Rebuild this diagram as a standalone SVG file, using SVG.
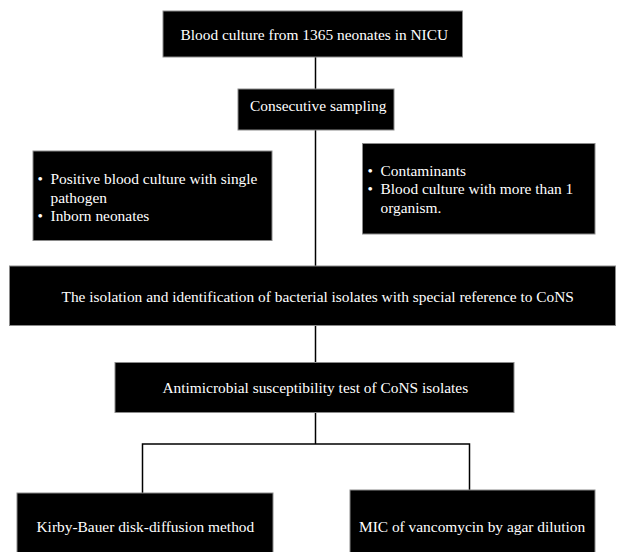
<svg xmlns="http://www.w3.org/2000/svg" width="617" height="552" viewBox="0 0 617 552">
<style>
.box{fill:#000;stroke:#8a8a8a;stroke-width:1}
.t{font-family:"Liberation Serif","Times New Roman",serif;font-size:15.4px;fill:#fff}
.c{stroke:#000;stroke-width:1.5;fill:none}
</style>
<rect width="617" height="552" fill="#fff"/>
<g id="connectors">
<line class="c" x1="315.5" y1="57" x2="315.5" y2="89"/>
<line class="c" x1="315.5" y1="130" x2="315.5" y2="266"/>
<line class="c" x1="315.5" y1="325" x2="315.5" y2="362"/>
<line class="c" x1="315.5" y1="413" x2="315.5" y2="444"/>
<polyline class="c" points="142.5,493 142.5,444 469.5,444 469.5,490"/>
</g>
<g id="n1">
<rect class="box" x="163" y="11" width="299.5" height="46"/>
<text class="t" x="180.5" y="40">Blood culture from 1365 neonates in NICU</text>
</g>
<g id="n2">
<rect class="box" x="238" y="89" width="156" height="41"/>
<text class="t" x="250" y="111">Consecutive sampling</text>
</g>
<g id="n3">
<rect class="box" x="33" y="151" width="239" height="89.5"/>
<text class="t" x="37.5" y="184">•</text>
<text class="t" x="50.5" y="184">Positive blood culture with single</text>
<text class="t" x="50.5" y="202.5">pathogen</text>
<text class="t" x="37.5" y="221">•</text>
<text class="t" x="50.5" y="221">Inborn neonates</text>
</g>
<g id="n4">
<rect class="box" x="362.5" y="143.5" width="232.5" height="90.5"/>
<text class="t" x="367.5" y="175.5">•</text>
<text class="t" x="380.5" y="175.5">Contaminants</text>
<text class="t" x="367.5" y="194">•</text>
<text class="t" x="380.5" y="194">Blood culture with more than 1</text>
<text class="t" x="380.5" y="212.5">organism.</text>
</g>
<g id="n5">
<rect class="box" x="9.5" y="266" width="606" height="59.5"/>
<text class="t" x="61.5" y="302">The isolation and identification of bacterial isolates with special reference to CoNS</text>
</g>
<g id="n6">
<rect class="box" x="115" y="362.5" width="399" height="50"/>
<text class="t" x="162.5" y="392.5">Antimicrobial susceptibility test of CoNS isolates</text>
</g>
<g id="n7">
<rect class="box" x="17" y="493" width="256" height="60"/>
<text class="t" x="36.5" y="532">Kirby-Bauer disk-diffusion method</text>
</g>
<g id="n8">
<rect class="box" x="350" y="490" width="245" height="63"/>
<text class="t" x="359" y="532">MIC of vancomycin by agar dilution</text>
</g>
</svg>
